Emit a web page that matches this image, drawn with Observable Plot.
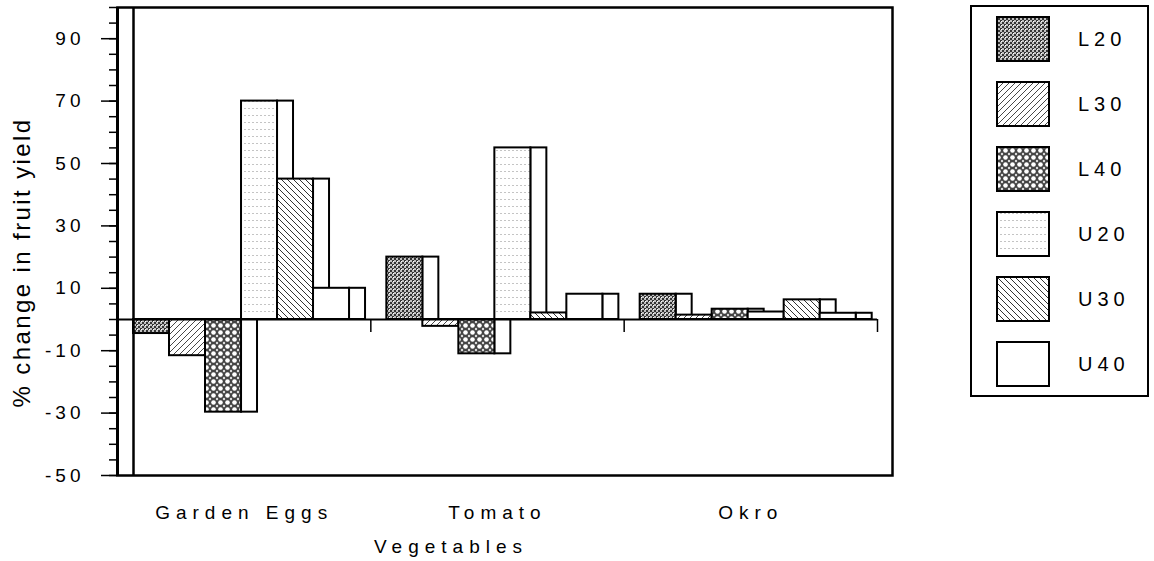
<!DOCTYPE html>
<html><head><meta charset="utf-8">
<script src="https://cdn.jsdelivr.net/npm/d3@7"></script>
<script src="https://cdn.jsdelivr.net/npm/@observablehq/plot@0.6"></script>
<style>
body{margin:0;background:#fff;}
#wrap{position:relative;width:1154px;height:561px;overflow:hidden;}
#wrap svg{position:absolute;}
</style></head><body><div id="wrap"></div>
<script>
// ---- data ----
const categories = ["Garden Eggs", "Tomato", "Okro"];
const series = ["L20", "L30", "L40", "U20", "U30", "U40"];
const gardenEggs = [-4.5, -11.6, -29.7, 70, 45, 10];
const tomato = [20, -2.2, -11, 55, 2.1, 8.1];
const okro = [8.1, 1.4, 3.3, 2.4, 6.3, 2.0];
const yMajorTicks = [-50, -30, -10, 10, 30, 50, 70, 90];
const yMinorTicks = d3.range(-50, 101, 5);
const xLabel = "Vegetables";
const yLabel = "% change in fruit yield";

const valuesByCat = [gardenEggs, tomato, okro];
const rows = [];
categories.forEach((c, ci) => series.forEach((s, si) => rows.push({cat: c, ci, series: s, si, value: valuesByCat[ci][si]})));

// layout (in category-band units)
const BAND = 253.3;
const lead = 16 / BAND, barW = 36 / BAND, shadowW = 16 / BAND;
const xMax = 3 + 15 / BAND;
const bx1 = d => d.ci + lead + d.si * barW;
const bx2 = d => bx1(d) + barW;

const patIds = ["pL20", "pL30", "pL40", "pU20", "pU30", "pU40"];
const fills = patIds.map(id => `url(#${id})`);

const wrap = document.getElementById("wrap");

// pattern definitions (shared)
const defsSvg = d3.select(wrap).append("svg").attr("width", 0).attr("height", 0).style("left", "0px").style("top", "0px");
const defs = defsSvg.append("defs");
{
  let p = defs.append("pattern").attr("id", "pL20").attr("patternUnits", "userSpaceOnUse").attr("width", 4).attr("height", 4);
  p.append("rect").attr("width", 4).attr("height", 4).attr("fill", "#c0c0c0");
  p.append("rect").attr("width", 2).attr("height", 2).attr("fill", "#333");
  p.append("rect").attr("x", 2).attr("y", 2).attr("width", 2).attr("height", 2).attr("fill", "#333");
  p.append("rect").attr("x", 1).attr("y", 1).attr("width", 1).attr("height", 1).attr("fill", "#fff");

  p = defs.append("pattern").attr("id", "pL30").attr("patternUnits", "userSpaceOnUse").attr("width", 6).attr("height", 6);
  p.append("rect").attr("width", 6).attr("height", 6).attr("fill", "#fff");
  p.append("path").attr("d", "M-1,7 L7,-1 M-1,1 L1,-1 M5,7 L7,5").attr("stroke", "#333").attr("stroke-width", 0.9);

  p = defs.append("pattern").attr("id", "pL40").attr("patternUnits", "userSpaceOnUse").attr("width", 7).attr("height", 7);
  p.append("rect").attr("width", 7).attr("height", 7).attr("fill", "#444");
  p.append("circle").attr("cx", 3.5).attr("cy", 3.5).attr("r", 2.3).attr("fill", "#fff");
  p.append("circle").attr("cx", 0).attr("cy", 0).attr("r", 1.2).attr("fill", "#ddd");
  p.append("circle").attr("cx", 7).attr("cy", 0).attr("r", 1.2).attr("fill", "#ddd");
  p.append("circle").attr("cx", 0).attr("cy", 7).attr("r", 1.2).attr("fill", "#ddd");
  p.append("circle").attr("cx", 7).attr("cy", 7).attr("r", 1.2).attr("fill", "#ddd");

  p = defs.append("pattern").attr("id", "pU20").attr("patternUnits", "userSpaceOnUse").attr("width", 4).attr("height", 7);
  p.append("rect").attr("width", 4).attr("height", 7).attr("fill", "#fff");
  p.append("rect").attr("y", 3).attr("width", 2).attr("height", 1).attr("fill", "#c4c4c4");

  p = defs.append("pattern").attr("id", "pU30").attr("patternUnits", "userSpaceOnUse").attr("width", 6).attr("height", 6);
  p.append("rect").attr("width", 6).attr("height", 6).attr("fill", "#fff");
  p.append("path").attr("d", "M-1,-1 L7,7 M5,-1 L7,1 M-1,5 L1,7").attr("stroke", "#333").attr("stroke-width", 1);

  p = defs.append("pattern").attr("id", "pU40").attr("patternUnits", "userSpaceOnUse").attr("width", 4).attr("height", 4);
  p.append("rect").attr("width", 4).attr("height", 4).attr("fill", "#fff");
}

const font = "'Liberation Sans', Arial, sans-serif";

const chart = Plot.plot({
  width: 960,
  height: 561,
  marginLeft: 117,
  marginRight: 68,
  marginTop: 7,
  marginBottom: 86,
  style: {fontFamily: font, fontSize: "19px", background: "transparent", overflow: "visible"},
  x: {type: "linear", domain: [0, xMax]},
  y: {domain: [-50, 100]},
  marks: [
    // shadow boxes to the right of each bar
    Plot.rectY(rows, {x1: bx2, x2: d => bx2(d) + shadowW, y1: 0, y2: "value", fill: "white", stroke: "black", strokeWidth: 2}),
    // bars
    Plot.rectY(rows, {x1: bx1, x2: bx2, y1: 0, y2: "value", fill: d => fills[d.si], stroke: "black", strokeWidth: 2}),
    // zero line
    Plot.ruleY([0], {x1: 0, x2: 3, stroke: "black", strokeWidth: 2}),
    // category boundary ticks under zero line
    Plot.ruleX([1, 2, 3], {y1: 0, y2: 0, insetBottom: -13, stroke: "black", strokeWidth: 1.5}),
    // frame and inner line
    Plot.frame({stroke: "black", strokeWidth: 2.5}),
    Plot.ruleX([lead], {stroke: "black", strokeWidth: 2.5}),
    Plot.ruleX([0], {stroke: "black", strokeWidth: 3}),
    // y axis
    Plot.axisY({ticks: yMinorTicks, tickSize: 8, tickFormat: () => "", label: null, strokeWidth: 1.5}),
    Plot.axisY({ticks: yMajorTicks, tickSize: 16, tickPadding: 17, tickFormat: d => String(d), label: null, strokeWidth: 1.5, fontSize: 19}),
    // x axis category labels
    Plot.axisX({ticks: [0.5, 1.5, 2.5], tickFormat: d => categories[Math.floor(d)], tickSize: 0, tickPadding: 30, label: null, fontSize: 19}),
    // axis titles
    Plot.text([xLabel], {frameAnchor: "bottom", lineAnchor: "top", dx: -54, dy: 64, fontSize: 19}),
    Plot.text([yLabel], {frameAnchor: "left", textAnchor: "middle", rotate: -90, dx: -95, dy: 21, fontSize: 24})
  ]
});
chart.style.left = "0px";
chart.style.top = "0px";
wrap.appendChild(chart);
d3.select(chart).selectAll("g[aria-label='x-axis tick label'] text, g[aria-label='text'] text").style("letter-spacing", "6px");
d3.select(chart).selectAll("g[aria-label='y-axis tick label'] text").style("letter-spacing", "4px");
// y title: tighter spacing
d3.select(chart).selectAll("g[aria-label='text'] text").filter(function(){return this.textContent === yLabel;}).style("letter-spacing", "2.4px");

// legend
const lg = d3.select(wrap).append("svg").attr("width", 194).attr("height", 420).style("left", "960px").style("top", "0px")
  .style("font-family", font);
lg.append("rect").attr("x", 11).attr("y", 6).attr("width", 177).attr("height", 390).attr("fill", "white").attr("stroke", "black").attr("stroke-width", 2);
series.forEach((s, i) => {
  const y = 17 + i * 65;
  lg.append("rect").attr("x", 37).attr("y", y).attr("width", 52).attr("height", 44).attr("fill", fills[i]).attr("stroke", "black").attr("stroke-width", 2);
  lg.append("text").attr("x", 118).attr("y", y + 22).attr("dy", "0.35em").attr("font-size", 20).style("letter-spacing", "5px").text(s);
});
</script></body></html>
